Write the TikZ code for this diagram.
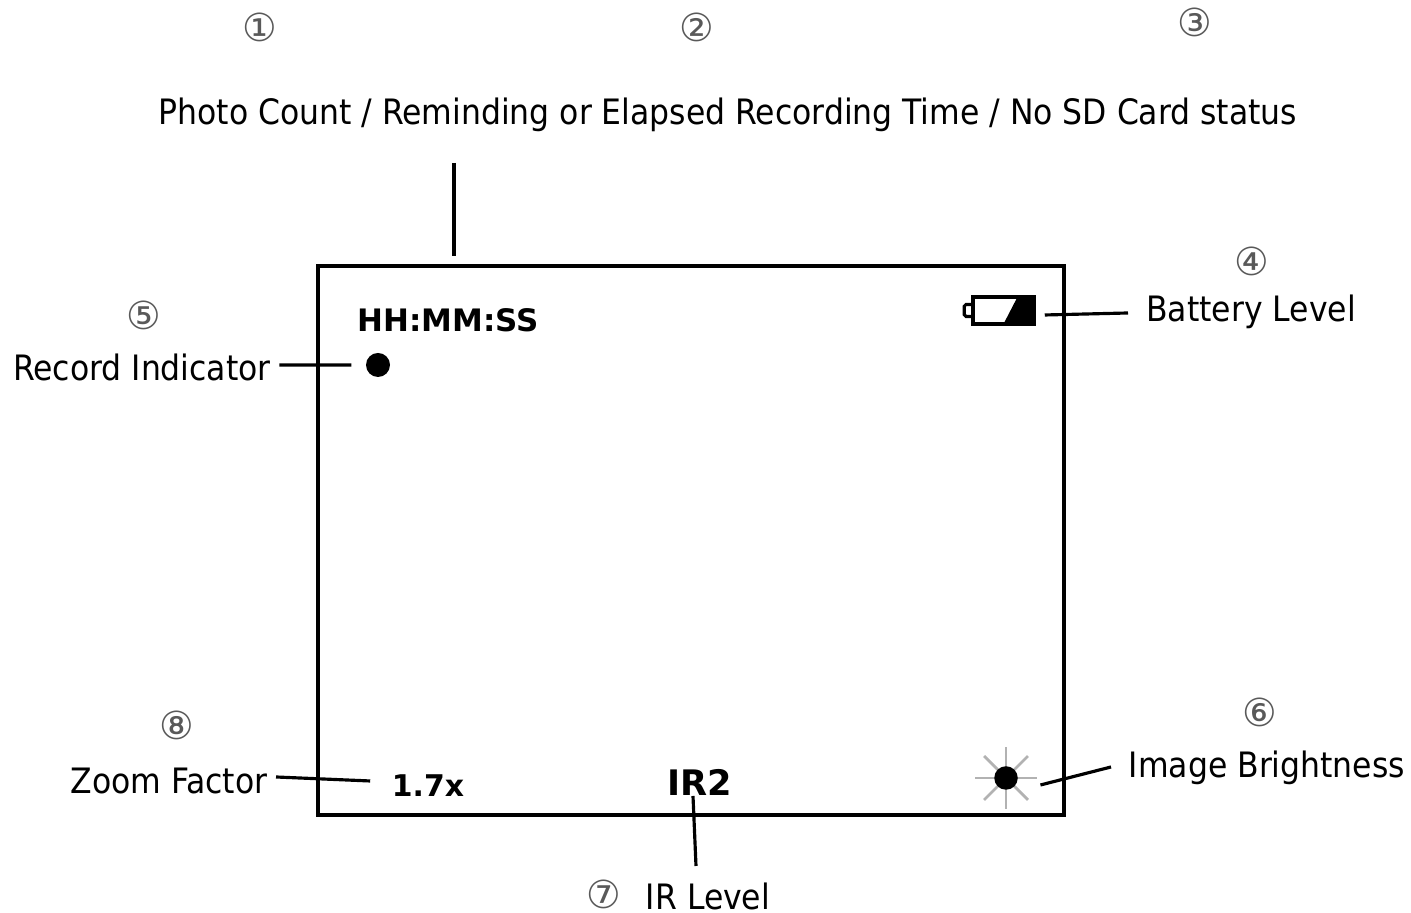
\documentclass[tikz,border=0pt]{standalone}
\usepackage{fontspec}
\usepackage{tikz}
\usepackage{xcolor}
\setmainfont{DejaVu Sans}
\newfontfamily\labelfont{DejaVu Sans Condensed}
\usetikzlibrary{positioning, calc}

\tikzset{
    label text/.style={font=\labelfont\fontsize{9.95}{11}\selectfont, inner sep=0pt},
    osd text/.style={font=\fontsize{8.8}{11}\bfseries, inner sep=0pt},
    circled num/.style={font=\fontsize{11}{12}\selectfont, text=black!65, inner sep=0pt},
    leader/.style={line width=0.9pt, black},
    sun ray/.style={line width=0.8pt, gray!60}
}

\begin{document}
\begin{tikzpicture}
    \useasboundingbox (0,0) rectangle (14.11,9.13);

    % Screen outline
    \node[draw, line width=1pt, minimum width=7.46cm, minimum height=5.49cm, inner sep=0pt] (screen) at (6.91, 3.725) {};

    % Circled numbers
    \node[circled num] (num1) at (2.60, 8.86) {①};
    \node[circled num] (num2) at (6.97, 8.86) {②};
    \node[circled num] (num3) at (11.95, 8.91) {③};
    \node[circled num] (num4) at (12.52, 6.52) {④};
    \node[circled num] (num5) at (1.44, 5.98) {⑤};
    \node[circled num] (num6) at (12.60, 2.01) {⑥};
    \node[circled num] (num7) at (6.04, 0.19) {⑦};
    \node[circled num] (num8) at (1.77, 1.88) {⑧};

    % Outside labels
    \node[label text] (countlabel) at (7.28, 7.98) {Photo Count / Reminding or Elapsed Recording Time / No SD Card status};
    \node[label text] (batterylabel) at (12.51, 6.01) {Battery Level};
    \node[label text] (recordlabel) at (1.42, 5.46) {Record Indicator};
    \node[label text] (zoomlabel) at (1.69, 1.32) {Zoom Factor};
    \node[label text] (brightlabel) at (12.67, 1.45) {Image Brightness};
    \node[label text] (irlabel) at (7.08, 0.17) {IR Level};

    % Screen contents
    \node[osd text] (timevalue) at (4.48, 5.93) {HH:MM:SS};
    \node[osd text, font=\fontsize{8.5}{11}\bfseries] (zoomvalue) at (4.28, 1.27) {1.7x};
    \node[osd text, font=\fontsize{10}{11}\bfseries] (irvalue) at (7.00, 1.31) {IR2};
    \node[circle, fill=black, minimum size=0.24cm, inner sep=0pt] (recdot) at (3.78, 5.48) {};

    % Battery icon
    \node[draw, line width=1pt, minimum width=0.61cm, minimum height=0.27cm, inner sep=0pt] (battery) at (10.035, 6.025) {};
    \fill (10.18, 6.17) -- (10.35, 6.17) -- (10.35, 5.88) -- (10.03, 5.88) -- cycle;
    \draw[line width=0.9pt, rounded corners=0.5pt] (battery.west) ++(0,0.06) -- ++(-0.07,0) -- ++(0,-0.12) -- ++(0.07,0);

    % Brightness icon
    \coordinate (suncentre) at (10.06, 1.35);
    \foreach \ang in {0,45,...,315}
        \draw[sun ray] (suncentre) -- ++(\ang:0.31);
    \node[circle, fill=black, minimum size=0.235cm, inner sep=0pt] (sun) at (suncentre) {};

    % Leader end points
    \coordinate (counttop) at (4.54, 7.50);
    \coordinate (countend) at (4.54, 6.57);
    \coordinate (batteryend) at (11.28, 6.00);
    \coordinate (brightend) at (11.11, 1.46);
    \coordinate (irtop) at (6.93, 1.17);
    \coordinate (irend) at (6.96, 0.47);

    % Leaders
    \draw[leader] (counttop) -- (countend);
    \draw[leader] ([xshift=0.09cm,yshift=-0.045cm]battery.east) -- (batteryend);
    \draw[leader] ([xshift=0.08cm,yshift=0.02cm]recordlabel.east) -- ([xshift=-0.14cm]recdot.west);
    \draw[leader] ([xshift=0.08cm,yshift=0.04cm]zoomlabel.east) -- ([xshift=-0.21cm,yshift=0.05cm]zoomvalue.west);
    \draw[leader] (irtop) -- (irend);
    \draw[leader] ([xshift=0.22cm,yshift=-0.07cm]sun.east) -- (brightend);

\end{tikzpicture}
\end{document}
